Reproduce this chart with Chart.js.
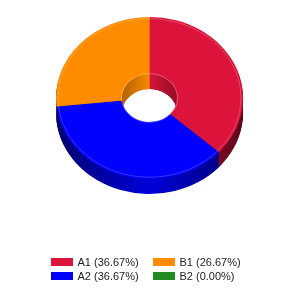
<!DOCTYPE html>
<html>
<head>
<meta charset="utf-8">
<script src="https://cdn.jsdelivr.net/npm/chart.js@4/dist/chart.umd.min.js"></script>
<style>
  html, body { margin: 0; padding: 0; background: #ffffff; }
  #wrap { width: 300px; height: 300px; }
</style>
</head>
<body>
<div id="wrap"><canvas id="c" width="300" height="300"></canvas></div>
<script>
// ---- data ----
const categories = ['A1', 'A2', 'B1', 'B2'];
const values = [11, 11, 8, 0];
const colors = ['#DC143C', '#0000FF', '#FF8C00', '#228B22'];

// ---- style constants ----
const TILT = 0.866;   // vertical squash of the pie disc
const DEPTH = 15;     // thickness of the 3D rim in px

function shade(hex, f) {
  const n = parseInt(hex.slice(1), 16);
  const r = Math.round(((n >> 16) & 255) * f);
  const g = Math.round(((n >> 8) & 255) * f);
  const b = Math.round((n & 255) * f);
  return 'rgb(' + r + ',' + g + ',' + b + ')';
}

const tiltPlugin = {
  id: 'tilt3d',
  beforeDatasetsDraw(chart) {
    const ctx = chart.ctx;
    const arcs = chart.getDatasetMeta(0).data;
    if (!arcs.length) return;
    const a0 = arcs[0];
    const cx = a0.x, cy = a0.y, R = a0.outerRadius, r = a0.innerRadius;
    const top = cy - R;
    const tilt = () => { ctx.translate(0, top); ctx.scale(1, TILT); ctx.translate(0, -top); };
    const drawArcs = (fillFor) => arcs.forEach((arc, i) => {
      if (!arc.circumference) return;
      const p = Object.create(arc);
      p.options = Object.assign({}, arc.options, { backgroundColor: fillFor(i), borderWidth: 0 });
      arc.draw.call(p, ctx);
    });
    const outerFill = (i) => {
      const g = ctx.createLinearGradient(cx - R, 0, cx + R, 0);
      g.addColorStop(0, shade(colors[i], 0.42));
      g.addColorStop(0.5, shade(colors[i], 0.86));
      g.addColorStop(1, shade(colors[i], 0.42));
      return g;
    };
    const innerFill = (i) => {
      const g = ctx.createLinearGradient(cx - r, 0, cx + r, 0);
      g.addColorStop(0, shade(colors[i], 0.7));
      g.addColorStop(0.5, shade(colors[i], 0.97));
      g.addColorStop(1, shade(colors[i], 0.68));
      return g;
    };
    // outer rim (extruded copies)
    for (let d = DEPTH; d >= 1; d--) {
      ctx.save(); ctx.translate(0, d); tilt(); drawArcs(outerFill); ctx.restore();
    }
    // inner wall, visible through the hole
    ctx.save();
    ctx.save(); tilt(); ctx.beginPath(); ctx.arc(cx, cy, r, 0, Math.PI * 2); ctx.restore();
    ctx.clip();
    for (let d = DEPTH; d >= 1; d--) {
      ctx.save(); ctx.translate(0, d); tilt(); drawArcs(innerFill); ctx.restore();
    }
    ctx.restore();
    // top face drawn by Chart.js under the tilt transform
    ctx.save();
    tilt();
  },
  afterDatasetsDraw(chart) {
    const ctx = chart.ctx;
    const arcs = chart.getDatasetMeta(0).data;
    if (!arcs.length) return;
    arcs.forEach((arc) => {
      if (!arc.circumference) return;
      ctx.beginPath();
      ctx.arc(arc.x, arc.y, arc.outerRadius - 2, arc.startAngle, arc.endAngle);
      ctx.strokeStyle = 'rgba(255,255,255,0.22)';
      ctx.lineWidth = 1;
      ctx.stroke();
      ctx.beginPath();
      ctx.arc(arc.x, arc.y, arc.innerRadius + 0.5, arc.startAngle, arc.endAngle);
      ctx.strokeStyle = 'rgba(255,255,255,0.3)';
      ctx.stroke();
    });
    ctx.restore();
  }
};

const legendPlugin = {
  id: 'gridLegend',
  afterDraw(chart) {
    const ctx = chart.ctx;
    const total = values.reduce((a, b) => a + b, 0);
    const colPitch = 102, rowPitch = 14, boxW = 22, boxH = 8, gap = 4.5;
    const left = (chart.width - 2 * colPitch) / 2 + 3;
    const rowY = chart.height - 38;
    ctx.save();
    ctx.font = '11px "Liberation Sans", Arial, sans-serif';
    ctx.textBaseline = 'middle';
    ctx.textAlign = 'left';
    categories.forEach((name, i) => {
      const col = Math.floor(i / 2), row = i % 2;
      const x = left + col * colPitch;
      const y = rowY + row * rowPitch;
      ctx.fillStyle = colors[i];
      ctx.fillRect(x, y - boxH / 2, boxW, boxH);
      const pct = total ? (values[i] / total * 100) : 0;
      ctx.fillStyle = '#222222';
      ctx.fillText(name + ' (' + pct.toFixed(2) + '%)', x + boxW + gap, y + 0.5);
    });
    ctx.restore();
  }
};

new Chart(document.getElementById('c'), {
  type: 'doughnut',
  data: {
    labels: categories,
    datasets: [{
      data: values,
      backgroundColor: colors,
      borderWidth: 0,
      clip: false
    }]
  },
  options: {
    responsive: false,
    devicePixelRatio: 1,
    animation: false,
    events: [],
    cutout: '29.5%',
    rotation: 0,
    layout: { padding: { left: 56, right: 57, top: 17, bottom: 96 } },
    plugins: {
      legend: { display: false },
      tooltip: { enabled: false },
      title: { display: false }
    }
  },
  plugins: [tiltPlugin, legendPlugin]
});
</script>
</body>
</html>
